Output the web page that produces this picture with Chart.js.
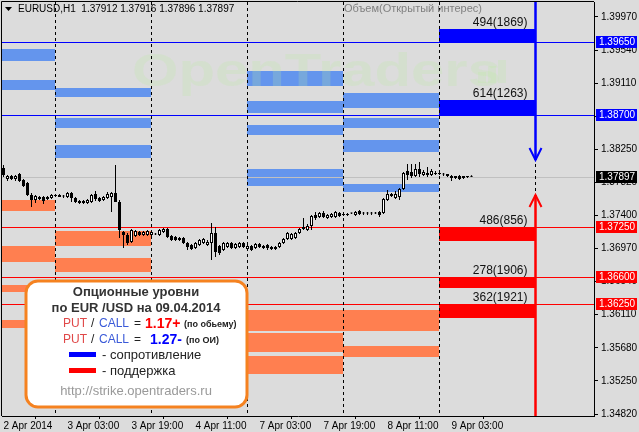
<!DOCTYPE html>
<html>
<head>
<meta charset="utf-8">
<script src="https://cdn.jsdelivr.net/npm/chart.js@4.4.1/dist/chart.umd.min.js"></script>
<style>
html, body { margin: 0; padding: 0; background: #dcdcdc; }
canvas { display: block; }
</style>
</head>
<body>
<canvas id="chart" width="639" height="432"></canvas>
<script>
// EURUSD H1, bar 0 = 2 Apr 11:00 ... bar 117 = 9 Apr 08:00 (weekend skipped)
const open = [
  1.38011,1.37868,1.37907,1.37868,1.37933,1.37855,1.37816,1.37661,1.37596,1.37609,
  1.37635,1.37635,1.37622,1.37648,1.37661,1.37648,1.37635,1.37687,1.37622,1.37583,
  1.37583,1.37557,1.37570,1.37674,1.37622,1.37596,1.37622,1.37635,1.37687,1.37570,
  1.37181,1.37142,1.37051,1.37129,1.37181,1.37142,1.37142,1.37142,1.37155,1.37142,
  1.37181,1.37220,1.37129,1.37116,1.37103,1.37103,1.37038,1.37012,1.36973,1.37012,
  1.37038,1.37012,1.37038,1.37168,1.36999,1.36947,1.36986,1.37038,1.36973,1.36986,
  1.37038,1.36960,1.36999,1.36973,1.37025,1.36999,1.37012,1.36986,1.36960,1.36986,
  1.37038,1.37090,1.37090,1.37103,1.37168,1.37220,1.37207,1.37259,1.37401,1.37375,
  1.37427,1.37362,1.37375,1.37375,1.37427,1.37414,1.37414,1.37421,1.37401,1.37453,
  1.37434,1.37427,1.37421,1.37427,1.37440,1.37427,1.37596,1.37648,1.37622,1.37635,
  1.37739,1.37972,1.37959,1.37907,1.37998,1.37920,1.37946,1.37920,1.37946,1.37946,
  1.37933,1.37933,1.37907,1.37907,1.37907,1.37881,1.37894,1.37912
];
const high = [
  1.38050,1.37920,1.37920,1.37920,1.37946,1.37868,1.37829,1.37687,1.37661,1.37648,
  1.37648,1.37648,1.37674,1.37674,1.37674,1.37661,1.37700,1.37700,1.37635,1.37596,
  1.37596,1.37609,1.37674,1.37713,1.37635,1.37648,1.37700,1.37700,1.38050,1.37596,
  1.37194,1.37168,1.37220,1.37207,1.37194,1.37194,1.37207,1.37207,1.37168,1.37220,
  1.37233,1.37233,1.37142,1.37129,1.37116,1.37116,1.37051,1.37025,1.37051,1.37090,
  1.37103,1.37077,1.37298,1.37246,1.37012,1.37051,1.37051,1.37051,1.37038,1.37051,
  1.37051,1.37012,1.37012,1.37038,1.37038,1.37012,1.37025,1.36999,1.36999,1.37051,
  1.37103,1.37181,1.37168,1.37181,1.37233,1.37362,1.37285,1.37401,1.37440,1.37440,
  1.37453,1.37414,1.37427,1.37453,1.37440,1.37427,1.37427,1.37434,1.37453,1.37466,
  1.37440,1.37440,1.37440,1.37440,1.37453,1.37622,1.37726,1.37687,1.37713,1.37752,
  1.37959,1.38063,1.38063,1.38063,1.38089,1.37985,1.38024,1.37998,1.37972,1.37959,
  1.37946,1.37933,1.37920,1.37907,1.37920,1.37907,1.37907,1.37916
];
const low = [
  1.37894,1.37842,1.37855,1.37842,1.37829,1.37765,1.37648,1.37505,1.37557,1.37596,
  1.37544,1.37596,1.37609,1.37635,1.37635,1.37622,1.37622,1.37570,1.37557,1.37544,
  1.37544,1.37544,1.37557,1.37583,1.37570,1.37583,1.37609,1.37440,1.37570,1.37103,
  1.36973,1.37012,1.37038,1.37116,1.37129,1.37129,1.37129,1.37129,1.37142,1.37129,
  1.37168,1.37103,1.37064,1.37064,1.37064,1.37025,1.36947,1.36947,1.36960,1.36999,
  1.37025,1.36999,1.36817,1.36856,1.36882,1.36934,1.36973,1.36960,1.36960,1.36973,
  1.36973,1.36934,1.36934,1.36960,1.36973,1.36960,1.36947,1.36947,1.36947,1.36973,
  1.37025,1.37077,1.37077,1.37090,1.37155,1.37207,1.37194,1.37207,1.37337,1.37362,
  1.37362,1.37349,1.37362,1.37362,1.37375,1.37388,1.37388,1.37414,1.37388,1.37401,
  1.37401,1.37401,1.37401,1.37414,1.37375,1.37414,1.37583,1.37635,1.37609,1.37596,
  1.37726,1.37855,1.37881,1.37894,1.37894,1.37907,1.37894,1.37907,1.37920,1.37920,
  1.37907,1.37894,1.37842,1.37868,1.37855,1.37868,1.37881,1.37896
];
const close = [
  1.37920,1.37907,1.37868,1.37907,1.37842,1.37778,1.37661,1.37596,1.37648,1.37635,
  1.37583,1.37609,1.37661,1.37661,1.37635,1.37642,1.37687,1.37622,1.37570,1.37557,
  1.37557,1.37596,1.37661,1.37609,1.37583,1.37635,1.37674,1.37687,1.37570,1.37207,
  1.37142,1.37038,1.37207,1.37194,1.37142,1.37181,1.37194,1.37181,1.37149,1.37207,
  1.37220,1.37116,1.37077,1.37077,1.37077,1.37038,1.36986,1.36960,1.37038,1.37077,
  1.37090,1.37051,1.37168,1.36921,1.36908,1.37038,1.37038,1.36973,1.37025,1.37038,
  1.36986,1.36999,1.36947,1.37025,1.36986,1.36973,1.36973,1.36960,1.36986,1.37038,
  1.37090,1.37168,1.37155,1.37168,1.37220,1.37246,1.37259,1.37388,1.37362,1.37427,
  1.37375,1.37401,1.37414,1.37440,1.37388,1.37401,1.37401,1.37427,1.37440,1.37414,
  1.37421,1.37421,1.37427,1.37421,1.37401,1.37609,1.37674,1.37674,1.37674,1.37739,
  1.37946,1.37920,1.37907,1.37998,1.37933,1.37959,1.37920,1.37972,1.37933,1.37933,
  1.37927,1.37907,1.37881,1.37881,1.37868,1.37907,1.37907,1.37897
];

const tickBars = [0, 16, 32, 48, 64, 80, 96, 112];
const tickNames = ['2 Apr 2014', '3 Apr 03:00', '3 Apr 19:00', '4 Apr 11:00',
                   '7 Apr 03:00', '7 Apr 19:00', '8 Apr 11:00', '9 Apr 03:00'];
const priceTicks = [1.39970, 1.39540, 1.39110, 1.38680, 1.38250, 1.37820, 1.37400,
                    1.36970, 1.36540, 1.36110, 1.35680, 1.35250, 1.34820];
const dayStarts = [13, 37, 61, 85, 109, 133];   // midnight bars (day separators)

// option blocks of earlier days: column start bar, low, high
const resDay  = [-11, -11, 13, 13, 13, 61, 61, 61, 61, 85, 85, 85, 85];
const resLow  = [1.39399, 1.39023, 1.38932, 1.38530, 1.38141, 1.39075, 1.38725, 1.38440, 1.37778, 1.38790, 1.38530, 1.38219, 1.37700];
const resHigh = [1.39555, 1.39153, 1.39049, 1.38660, 1.38309, 1.39270, 1.38881, 1.38569, 1.37999, 1.38984, 1.38660, 1.38375, 1.37804];
const supDay  = [-11, -11, -11, -11, 13, 13, 61, 61, 61, 85, 85];
const supLow  = [1.37454, 1.36792, 1.36403, 1.35936, 1.37000, 1.36662, 1.35897, 1.35625, 1.35339, 1.35897, 1.35560];
const supHigh = [1.37597, 1.37000, 1.36494, 1.36040, 1.37194, 1.36843, 1.36169, 1.35871, 1.35573, 1.36169, 1.35702];

// today's levels (9 Apr)
const todayStart = 109;
const levelPrice = [1.39650, 1.38700, 1.37250, 1.36600, 1.36250];
const levelEdge  = [1.39820, 1.38895, 1.37068, 1.36455, 1.36068];
const levelSide  = ['res', 'res', 'sup', 'sup', 'sup'];
const levelText  = ['494(1869)', '614(1263)', '486(856)', '278(1906)', '362(1921)'];
const resArrowTip = 1.38115;
const supArrowTip = 1.37661;

const putCallVolume = '1.17+';
const putCallOI = '1.27-';

const sans = "'Liberation Sans', Arial, sans-serif";
const BG = '#dcdcdc';

const bodies = open.map((o, i) => ({ x: i, y: [Math.min(o, close[i]), Math.max(o, close[i])] }));
const wicks = low.map((l, i) => ({ x: i, y: [l, high[i]] }));
const bodyColors = open.map((o, i) => close[i] >= o ? '#ffffff' : '#000000');

const overlay = {
  id: 'overlay',
  beforeDraw(chart) {
    const ctx = chart.ctx;
    ctx.save();
    ctx.fillStyle = BG;
    ctx.fillRect(0, 0, chart.width, chart.height);
    ctx.restore();
  },
  beforeDatasetsDraw(chart) {
    const { ctx, chartArea: a, scales: { x, y } } = chart;
    ctx.save();
    ctx.beginPath();
    ctx.rect(a.left, a.top, a.right - a.left, a.bottom - a.top);
    ctx.clip();

    function block(day, lo, hi, color) {
      const x0 = Math.floor(x.getPixelForValue(day));
      const x1 = Math.floor(x.getPixelForValue(day + 24));
      const y0 = Math.round(y.getPixelForValue(hi));
      const y1 = Math.round(y.getPixelForValue(lo));
      ctx.fillStyle = color;
      ctx.fillRect(x0, y0, x1 - x0, y1 - y0);
    }
    resDay.forEach((d, i) => block(d, resLow[i], resHigh[i], '#6495ed'));
    supDay.forEach((d, i) => block(d, supLow[i], supHigh[i], '#ff7f50'));
    levelPrice.forEach((p, i) => {
      const lo = Math.min(p, levelEdge[i]), hi = Math.max(p, levelEdge[i]);
      block(todayStart, lo, hi, levelSide[i] === 'res' ? '#0000ff' : '#ff0000');
    });

    // watermark
    ctx.save();
    ctx.fillStyle = 'rgba(185, 235, 160, 0.22)';
    ctx.font = 'bold 46px ' + sans;
    ctx.textBaseline = 'alphabetic';
    ctx.translate(132, 86);
    ctx.scale(1.3, 1);
    ctx.fillText('OpenTraders', 0, 0);
    ctx.restore();
    ctx.fillStyle = 'rgba(185, 235, 160, 0.22)';
    ctx.fillRect(478, 72, 8, 11);
    ctx.fillRect(488, 66, 8, 17);
    ctx.fillRect(498, 60, 8, 23);

    // level lines across the whole chart
    ctx.lineWidth = 1;
    levelPrice.forEach((p, i) => {
      const py = Math.round(y.getPixelForValue(p)) + 0.5;
      ctx.strokeStyle = levelSide[i] === 'res' ? '#0000ff' : '#ff0000';
      ctx.beginPath();
      ctx.moveTo(a.left, py);
      ctx.lineTo(a.right, py);
      ctx.stroke();
    });

    // current price line
    const last = close[close.length - 1];
    const cy = Math.round(y.getPixelForValue(last)) + 0.5;
    ctx.strokeStyle = '#c0c0c0';
    ctx.beginPath();
    ctx.moveTo(a.left, cy);
    ctx.lineTo(a.right, cy);
    ctx.stroke();

    // day separators
    ctx.strokeStyle = '#000';
    ctx.setLineDash([3, 3]);
    dayStarts.forEach(d => {
      const px = Math.floor(x.getPixelForValue(d)) + 0.5;
      ctx.beginPath();
      ctx.moveTo(px, a.top);
      ctx.lineTo(px, a.bottom);
      ctx.stroke();
    });
    ctx.setLineDash([]);
    ctx.restore();
  },
  afterDraw(chart) {
    const { ctx, chartArea: a, scales: { x, y } } = chart;
    ctx.save();

    // frame (top and left)
    ctx.strokeStyle = '#000';
    ctx.lineWidth = 1;
    ctx.beginPath();
    ctx.moveTo(a.left - 0.5, a.bottom);
    ctx.lineTo(a.left - 0.5, a.top - 0.5);
    ctx.lineTo(a.right, a.top - 0.5);
    ctx.stroke();

    // labels over today's blocks
    ctx.font = '12px ' + sans;
    ctx.fillStyle = '#111';
    ctx.textAlign = 'right';
    ctx.textBaseline = 'alphabetic';
    const labelRight = x.getPixelForValue(dayStarts[5]) - 8;
    levelPrice.forEach((p, i) => {
      const top = y.getPixelForValue(Math.max(p, levelEdge[i]));
      ctx.fillText(levelText[i], labelRight, top - 3);
    });

    // arrows
    const ax = x.getPixelForValue(dayStarts[5]);
    function arrow(color, fromY, tipY, dir) {
      ctx.strokeStyle = color;
      ctx.lineWidth = 2.5;
      ctx.beginPath();
      ctx.moveTo(ax, fromY);
      ctx.lineTo(ax, tipY);
      ctx.stroke();
      ctx.lineWidth = 2;
      ctx.beginPath();
      ctx.moveTo(ax - 6, tipY - dir * 12);
      ctx.lineTo(ax, tipY);
      ctx.lineTo(ax + 6, tipY - dir * 12);
      ctx.stroke();
    }
    arrow('#0000ff', a.top, y.getPixelForValue(resArrowTip), 1);
    arrow('#ff0000', a.bottom, y.getPixelForValue(supArrowTip), -1);

    // price boxes on the axis
    ctx.font = '10px ' + sans;
    ctx.textAlign = 'left';
    ctx.textBaseline = 'middle';
    function priceBox(p, bg) {
      const py = Math.round(y.getPixelForValue(p));
      ctx.fillStyle = bg;
      ctx.fillRect(a.right + 2, py - 6, 41, 12);
      ctx.fillStyle = '#fff';
      ctx.fillText(p.toFixed(5), a.right + 5, py + 0.5);
    }
    levelPrice.forEach((p, i) => priceBox(p, levelSide[i] === 'res' ? '#0000ff' : '#ff0000'));
    priceBox(close[close.length - 1], '#000');

    // header
    ctx.fillStyle = '#000';
    ctx.beginPath();
    ctx.moveTo(5, 7); ctx.lineTo(12, 7); ctx.lineTo(8.5, 11); ctx.closePath();
    ctx.fill();
    const n = open.length - 1;
    ctx.fillText('EURUSD,H1  ' + [open[n], high[n], low[n], close[n]].map(v => v.toFixed(5)).join(' '), 18, 9);
    ctx.fillStyle = '#808080';
    ctx.font = '11px ' + sans;
    ctx.fillText('Объем(Открытый интерес)', 344, 9);

    // info box
    ctx.fillStyle = '#fff';
    ctx.strokeStyle = '#f58220';
    ctx.lineWidth = 3;
    ctx.beginPath();
    ctx.roundRect(26, 281, 221, 126, 12);
    ctx.fill();
    ctx.stroke();

    ctx.textAlign = 'center';
    ctx.fillStyle = '#333';
    ctx.font = 'bold 13px ' + sans;
    ctx.fillText('Опционные уровни', 136, 292);
    ctx.fillText('по EUR /USD на 09.04.2014', 136, 308);

    ctx.textAlign = 'left';
    function ratioLine(yy, value, valueColor, valueX, note, noteX) {
      ctx.font = '12px ' + sans;
      ctx.fillStyle = '#e04848'; ctx.fillText('PUT', 63, yy);
      ctx.fillStyle = '#222'; ctx.fillText('/', 91, yy);
      ctx.fillStyle = '#3a5ad8'; ctx.fillText('CALL', 99, yy);
      ctx.fillStyle = '#222'; ctx.fillText('=', 134, yy);
      ctx.font = 'bold 14px ' + sans;
      ctx.fillStyle = valueColor; ctx.fillText(value, valueX, yy);
      ctx.font = 'bold 9px ' + sans;
      ctx.fillStyle = '#222'; ctx.fillText(note, noteX, yy + 1);
    }
    ratioLine(324, putCallVolume, '#ff0000', 145, '(по обьему)', 184);
    ratioLine(340, putCallOI, '#0000ff', 150, '(по ОИ)', 186);

    ctx.fillStyle = '#0000ff';
    ctx.fillRect(69, 352, 27, 5);
    ctx.fillStyle = '#ff0000';
    ctx.fillRect(69, 368, 27, 5);
    ctx.font = '13px ' + sans;
    ctx.fillStyle = '#222';
    ctx.fillText('- сопротивление', 102, 355);
    ctx.fillText('- поддержка', 102, 371);

    ctx.textAlign = 'center';
    ctx.fillStyle = '#999';
    ctx.fillText('http://strike.opentraders.ru', 136, 391);
    ctx.restore();
  }
};

new Chart(document.getElementById('chart'), {
  type: 'bar',
  data: {
    datasets: [
      {
        data: bodies,
        backgroundColor: bodyColors,
        borderColor: '#000',
        borderWidth: 1,
        borderSkipped: false,
        barThickness: 3,
        minBarLength: 1,
        inflateAmount: 0,
        grouped: false,
        order: 0
      },
      {
        data: wicks,
        backgroundColor: '#000',
        borderWidth: 0,
        barThickness: 1,
        inflateAmount: 0,
        grouped: false,
        order: 1
      }
    ]
  },
  options: {
    responsive: false,
    animation: false,
    layout: { padding: { left: 2, top: 2, right: 0, bottom: 0 } },
    plugins: { legend: { display: false }, tooltip: { enabled: false } },
    scales: {
      x: {
        type: 'linear',
        min: -0.375,
        max: 147.625,
        offset: false,
        afterBuildTicks: s => { s.ticks = tickBars.map(v => ({ value: v })); },
        afterFit: s => { s.height = 16; s.paddingLeft = 0; s.paddingRight = 0; },
        grid: { drawOnChartArea: false, drawTicks: true, tickLength: 3, color: '#000' },
        border: { color: '#000' },
        ticks: {
          align: 'start', maxRotation: 0, autoSkip: false, padding: 1, color: '#000',
          font: { family: sans, size: 10 },
          callback: v => tickNames[tickBars.indexOf(v)]
        }
      },
      y: {
        position: 'right',
        min: 1.34795,
        max: 1.40164,
        afterBuildTicks: s => { s.ticks = priceTicks.map(v => ({ value: v })); },
        afterFit: s => { s.width = 45; s.paddingTop = 0; s.paddingBottom = 0; },
        grid: { drawOnChartArea: false, drawTicks: true, tickLength: 4, color: '#000' },
        border: { color: '#000' },
        ticks: {
          padding: 3, color: '#000',
          font: { family: sans, size: 10 },
          callback: v => v.toFixed(5)
        }
      }
    }
  },
  plugins: [overlay]
});
</script>
</body>
</html>
